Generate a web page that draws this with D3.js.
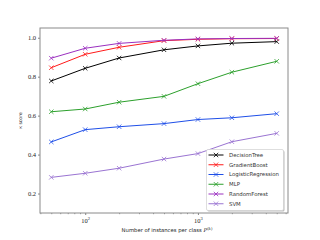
<!DOCTYPE html>
<html>
<head>
<meta charset="utf-8">
<script src="https://cdn.jsdelivr.net/npm/d3@7"></script>
<style>
  body { margin: 0; background: #fff; }
  svg { display: block; }
</style>
</head>
<body>
<svg id="chart" width="320" height="240"></svg>
<script>
// values
var instances = [50, 100, 200, 500, 1000, 2000, 5000];
var models = ['DecisionTree', 'GradientBoost', 'LogisticRegression', 'MLP', 'RandomForest', 'SVM'];
var decisionTree = [0.778, 0.843, 0.896, 0.938, 0.958, 0.972, 0.980];
var gradientBoost = [0.846, 0.915, 0.951, 0.985, 0.992, 0.995, 0.996];
var logisticRegression = [0.465, 0.528, 0.543, 0.559, 0.580, 0.589, 0.610];
var mlp = [0.620, 0.634, 0.669, 0.699, 0.764, 0.823, 0.879];
var randomForest = [0.895, 0.946, 0.971, 0.987, 0.994, 0.996, 0.997];
var svm = [0.283, 0.304, 0.330, 0.377, 0.405, 0.466, 0.509];
var yTicks = [0.2, 0.4, 0.6, 0.8, 1.0];
var xTicks = [100, 1000];

var series = [decisionTree, gradientBoost, logisticRegression, mlp, randomForest, svm];
var colors = ['#000000', '#ff1a1a', '#1f4fe8', '#2ca02c', '#9b30c0', '#9a74d2'];

var margin = { top: 28, right: 32, bottom: 27, left: 40 };
var width = 320, height = 240;
var innerWidth = width - margin.left - margin.right;
var innerHeight = height - margin.top - margin.bottom;

var svg = d3.select('#chart');

// matplotlib-style log margins
var x_scale = d3.scaleLog()
    .domain([Math.pow(10, Math.log10(50) - 0.1), Math.pow(10, Math.log10(5000) + 0.1)])
    .range([0, innerWidth]);
var y_scale = d3.scaleLinear()
    .domain([0.1, 1.05])
    .range([innerHeight, 0]);

var g = svg.append('g')
    .attr('transform', 'translate(' + margin.left + ',' + margin.top + ')');

// y axis
var yAxis = d3.axisLeft(y_scale).tickValues(yTicks).tickSize(2).tickPadding(2)
    .tickFormat(d3.format('.1f'));
var yAxis_g = g.append('g').call(yAxis);
yAxis_g.select('.domain').remove();
yAxis_g.selectAll('line').attr('stroke', '#333').attr('stroke-width', 0.6);
yAxis_g.selectAll('text')
    .attr('font-family', '"Liberation Serif", serif')
    .attr('font-size', 6.5)
    .attr('fill', '#222');

// x axis: minor ticks
var minorTicks = [];
[10, 100, 1000].forEach(function(base) {
    for (var k = 2; k <= 9; k++) {
        var v = base * k;
        if (v > x_scale.domain()[0] && v < x_scale.domain()[1]) minorTicks.push(v);
    }
});
var xMinor = d3.axisBottom(x_scale).tickValues(minorTicks).tickSize(1.2).tickFormat('');
var xMinor_g = g.append('g').attr('transform', 'translate(0,' + innerHeight + ')').call(xMinor);
xMinor_g.select('.domain').remove();
xMinor_g.selectAll('text').remove();
xMinor_g.selectAll('line').attr('stroke', '#333').attr('stroke-width', 0.5);

var xAxis = d3.axisBottom(x_scale).tickValues(xTicks).tickSize(2).tickFormat('');
var xAxis_g = g.append('g').attr('transform', 'translate(0,' + innerHeight + ')').call(xAxis);
xAxis_g.select('.domain').remove();
xAxis_g.selectAll('text').remove();
xAxis_g.selectAll('line').attr('stroke', '#333').attr('stroke-width', 0.6);
xAxis_g.selectAll('.tick').append('text')
    .attr('y', 9.5)
    .attr('text-anchor', 'middle')
    .attr('font-family', '"Liberation Serif", serif')
    .attr('font-size', 6.5)
    .attr('fill', '#222')
    .each(function(d) {
        var t = d3.select(this);
        t.append('tspan').text('10');
        t.append('tspan').attr('dy', -2.5).attr('font-size', 4.5).text(String(Math.round(Math.log10(d))));
    });

// lines
var line = d3.line()
    .x(function(d, i) { return x_scale(instances[i]); })
    .y(function(d) { return y_scale(d); });

function drawX(sel, cx, cy, r, color) {
    sel.append('path')
        .attr('d', 'M' + (cx - r) + ',' + (cy - r) + 'L' + (cx + r) + ',' + (cy + r) +
                   'M' + (cx - r) + ',' + (cy + r) + 'L' + (cx + r) + ',' + (cy - r))
        .attr('stroke', color)
        .attr('stroke-width', 0.8)
        .attr('fill', 'none');
}

series.forEach(function(vals, s) {
    g.append('path')
        .datum(vals)
        .attr('d', line)
        .attr('fill', 'none')
        .attr('stroke', colors[s])
        .attr('stroke-width', 1);
    vals.forEach(function(v, i) {
        drawX(g, x_scale(instances[i]), y_scale(v), 2.2, colors[s]);
    });
});

// frame
g.append('rect')
    .attr('width', innerWidth)
    .attr('height', innerHeight)
    .attr('fill', 'none')
    .attr('stroke', '#8a8a8a')
    .attr('stroke-width', 1);

// axis labels
var xlabel = svg.append('text')
    .attr('x', margin.left + innerWidth / 2 + 3)
    .attr('y', 232)
    .attr('text-anchor', 'middle')
    .attr('font-family', '"DejaVu Sans", sans-serif')
    .attr('font-size', 5.3)
    .attr('fill', '#222');
xlabel.append('tspan').text('Number of instances per class ');
xlabel.append('tspan').attr('font-family', '"DejaVu Serif", serif').attr('font-style', 'italic').text('P');
xlabel.append('tspan').attr('dy', -2).attr('font-size', 3.8).attr('font-family', '"DejaVu Serif", serif').text('(');
xlabel.append('tspan').attr('font-size', 3.8).attr('font-family', '"DejaVu Serif", serif').attr('font-style', 'italic').text('k');
xlabel.append('tspan').attr('font-size', 3.8).attr('font-family', '"DejaVu Serif", serif').text(')');

svg.append('text')
    .attr('transform', 'translate(22,' + (margin.top + innerHeight / 2) + ') rotate(-90)')
    .attr('text-anchor', 'middle')
    .attr('font-family', '"DejaVu Sans", sans-serif')
    .attr('font-size', 4.6)
    .attr('fill', '#222')
    .text('κ score');

// legend
var legend = svg.append('g').attr('transform', 'translate(206.5,149.5)');
legend.append('rect')
    .attr('x', 1).attr('y', 1)
    .attr('width', 77).attr('height', 61)
    .attr('rx', 1.5)
    .attr('fill', '#bbb');
legend.append('rect')
    .attr('width', 77).attr('height', 61)
    .attr('rx', 1.5)
    .attr('fill', '#fff')
    .attr('stroke', '#d0d0d0')
    .attr('stroke-width', 0.7);
models.forEach(function(name, s) {
    var yy = 5.5 + s * 9.75;
    legend.append('line')
        .attr('x1', 2).attr('x2', 17)
        .attr('y1', yy).attr('y2', yy)
        .attr('stroke', colors[s]).attr('stroke-width', 1);
    drawX(legend, 9.5, yy, 2.2, colors[s]);
    legend.append('text')
        .attr('x', 22.5)
        .attr('y', yy + 1.9)
        .attr('font-family', '"DejaVu Sans", sans-serif')
        .attr('font-size', 5.4)
        .attr('fill', '#333')
        .text(name);
});
</script>
</body>
</html>
